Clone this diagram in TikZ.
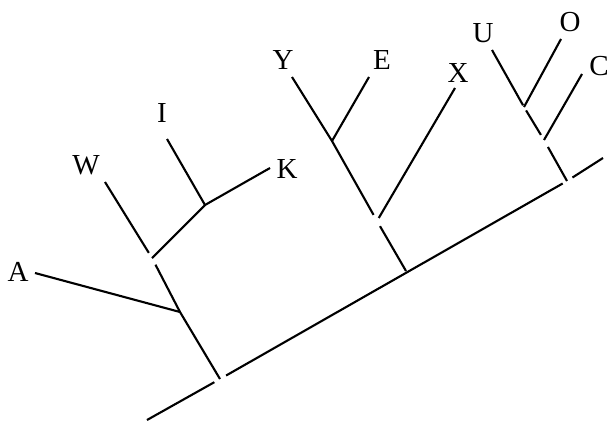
\documentclass[tikz,border=0pt]{standalone}
\usepackage{fontspec}
\setmainfont{Liberation Serif}
\usetikzlibrary{positioning}

\begin{document}
\begin{tikzpicture}[line width=1.2pt,
    taxon/.style={inner sep=1pt, font=\fontsize{16.5}{20}\selectfont}]
  \useasboundingbox (0,0) rectangle (12.22,8.42);
  % junctions on the main line and in the clades
  \coordinate (lo) at (2.94,0.02);
  \coordinate (r1) at (4.40,0.84);
  \coordinate (r2) at (8.12,3.00);
  \coordinate (r3) at (11.34,4.80);
  \coordinate (hi) at (12.06,5.26);
  \coordinate (a1) at (3.60,2.18);
  \coordinate (j1) at (3.04,3.26);
  \coordinate (k1) at (4.10,4.32);
  \coordinate (j2) at (7.54,4.00);
  \coordinate (e1) at (6.64,5.60);
  \coordinate (j3) at (10.88,5.62);
  \coordinate (j4) at (10.48,6.28);
  % tips
  \coordinate (tA) at (0.70,2.96);
  \coordinate (tW) at (2.10,4.78);
  \coordinate (tI) at (3.34,5.64);
  \coordinate (tK) at (5.40,5.06);
  \coordinate (tY) at (5.84,6.88);
  \coordinate (tE) at (7.38,6.88);
  \coordinate (tX) at (9.10,6.66);
  \coordinate (tU) at (9.84,7.42);
  \coordinate (tO) at (11.22,7.64);
  \coordinate (tC) at (11.64,6.94);
  % labels
  \node[taxon] (A) at (0.36,2.98) {A};
  \node[taxon] (W) at (1.72,5.12) {W};
  \node[taxon] (I) at (3.24,6.16) {I};
  \node[taxon] (K) at (5.74,5.04) {K};
  \node[taxon] (Y) at (5.66,7.22) {Y};
  \node[taxon] (E) at (7.64,7.22) {E};
  \node[taxon] (X) at (9.16,6.96) {X};
  \node[taxon] (U) at (9.66,7.76) {U};
  \node[taxon] (O) at (11.40,7.98) {O};
  \node[taxon] (C) at (11.98,7.10) {C};

  % main line
  \draw[shorten >=0.13cm] (lo) -- (r1);
  \draw[shorten <=0.14cm, shorten >=0.1cm] (r1) -- (r3);
  \draw[shorten <=0.13cm] (r3) -- (hi);
  % first clade
  \draw[shorten >=0.15cm] (r1) -- (a1) -- (j1);
  \draw (tA) -- (a1);
  \draw[shorten <=0.12cm] (j1) -- (tW);
  \draw (j1) -- (k1) -- (tK);
  \draw (k1) -- (tI);
  % second clade
  \draw[shorten >=0.12cm] (r2) -- (j2);
  \draw[shorten <=0.14cm] (j2) -- (e1) -- (tY);
  \draw (e1) -- (tE);
  \draw[shorten <=0.07cm] (j2) -- (tX);
  % third clade
  \draw[shorten >=0.16cm] (r3) -- (j3);
  \draw (j3) -- (tC);
  \draw[shorten <=0.12cm, shorten >=0.08cm] (j3) -- (j4);
  \draw[shorten <=0.04cm] (j4) -- (tU);
  \draw (j4) -- (tO);
\end{tikzpicture}
\end{document}
